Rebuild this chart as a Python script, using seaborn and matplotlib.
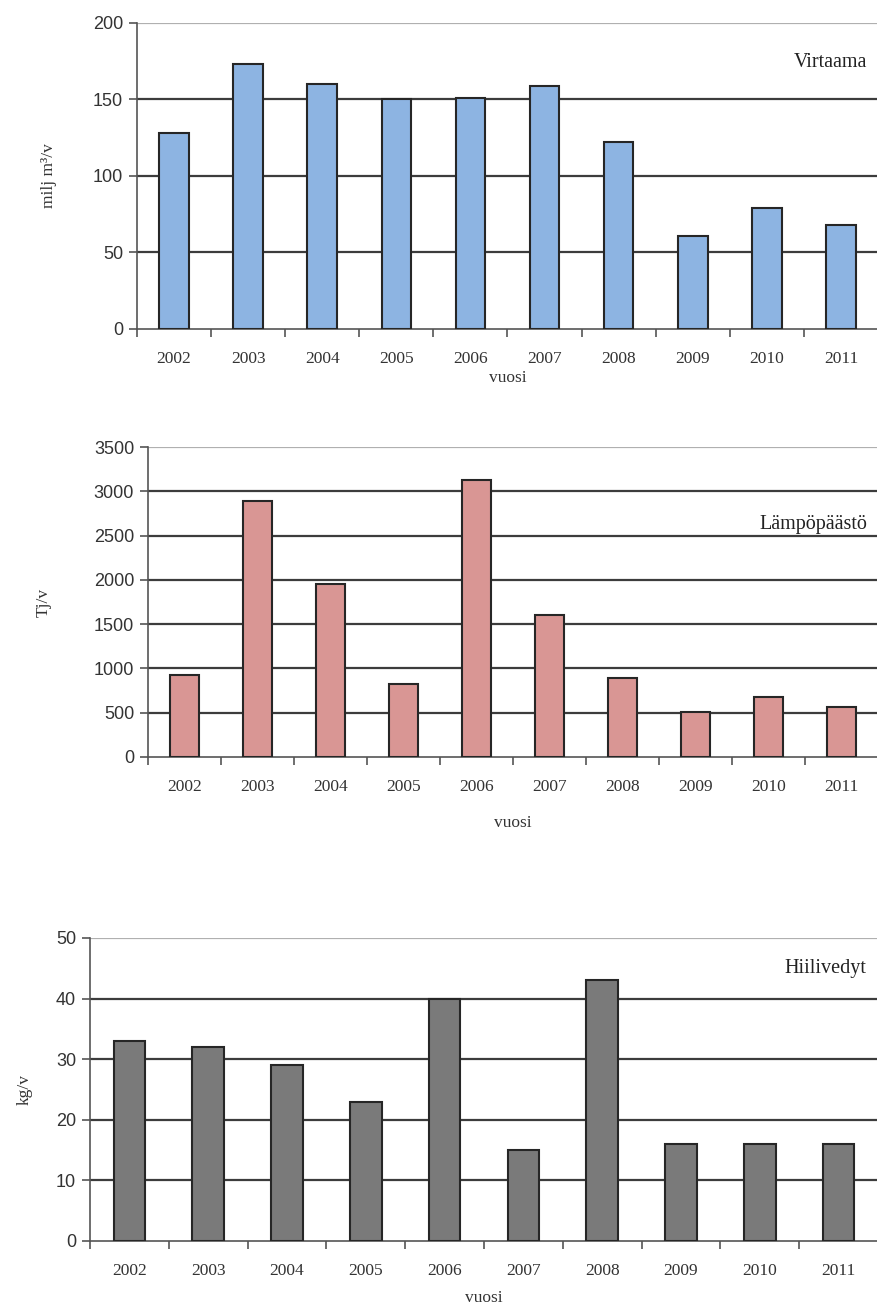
import matplotlib
matplotlib.use('Agg')
import matplotlib.pyplot as plt
import seaborn as sns
import pandas as pd

years = ['2002', '2003', '2004', '2005', '2006', '2007', '2008', '2009', '2010', '2011']
virtaama = [128, 173, 160, 150, 151, 159, 122, 61, 79, 68]
lampo = [930, 2890, 1950, 820, 3130, 1600, 890, 510, 680, 560]
hiilivedyt = [33, 32, 29, 23, 40, 15, 43, 16, 16, 16]

sns.set_theme(style='white')
serif = ['Liberation Serif', 'DejaVu Serif']
sans = ['Liberation Sans', 'DejaVu Sans']

fig = plt.figure(figsize=(8.78, 13.09), dpi=100)

panels = [
    # values, color, ylabel, title, ylim, yticks, axes rect, title y, xlabel pad, ylabel pad
    (virtaama, '#8DB4E2', 'milj m³/v', 'Virtaama', 200, range(0, 201, 50),
     [0.156, 0.7487, 0.844, 0.2338], 0.87, 2, 26),
    (lampo, '#D99694', 'Tj/v', 'Lämpöpäästö', 3500, range(0, 3501, 500),
     [0.1686, 0.4217, 0.8314, 0.2368], 0.75, 14, 30),
    (hiilivedyt, '#7A7A7A', 'kg/v', 'Hiilivedyt', 50, range(0, 51, 10),
     [0.1025, 0.052, 0.8975, 0.2315], 0.90, 8, 17),
]

for vals, col, ylab, title, top, yt, rect, ty, xpad, ypad in panels:
    ax = fig.add_axes(rect)
    df = pd.DataFrame({'vuosi': years, 'arvo': vals})
    sns.barplot(data=df, x='vuosi', y='arvo', color=col, width=0.4,
                edgecolor='#262626', linewidth=1.5, saturation=1, ax=ax, zorder=3)
    ax.set_ylim(0, top)
    ax.set_xlim(-0.5, 9.5)
    ax.set_yticks(list(yt))
    for v in list(yt)[1:]:
        c = '#b0b0b0' if v == top else '#3c3c3c'
        ax.axhline(v, color=c, lw=1.6, zorder=1)
    for s in ['top', 'right']:
        ax.spines[s].set_visible(False)
    ax.spines['left'].set_color('#555555')
    ax.spines['bottom'].set_color('#555555')
    ax.spines['left'].set_linewidth(1.2)
    ax.spines['bottom'].set_linewidth(1.2)
    ax.set_xticks([i + 0.5 for i in range(-1, 10)], minor=False)
    ax.set_xticklabels([])
    ax.set_xticks(range(10), minor=True)
    ax.set_xticklabels(years, minor=True, family=serif, fontsize=12.5, color='#333333')
    ax.tick_params(axis='x', which='major', direction='out', length=6, width=1.2,
                   color='#555555', bottom=True)
    ax.tick_params(axis='x', which='minor', length=0, pad=16, bottom=True)
    ax.tick_params(axis='y', direction='out', length=6, width=1.2, color='#555555',
                   left=True, pad=4)
    for t in ax.get_yticklabels():
        t.set_family(sans)
        t.set_fontsize(13)
        t.set_color('#333333')
    ax.set_xlabel('vuosi', family=serif, fontsize=12.5, color='#333333', labelpad=xpad)
    ax.set_ylabel(ylab, family=serif, fontsize=12.5, color='#333333', labelpad=ypad)
    ax.text(0.985, ty, title, transform=ax.transAxes, ha='right', va='center',
            family=serif, fontsize=14.5, color='#222222')

fig.savefig('out.png', dpi=100)
